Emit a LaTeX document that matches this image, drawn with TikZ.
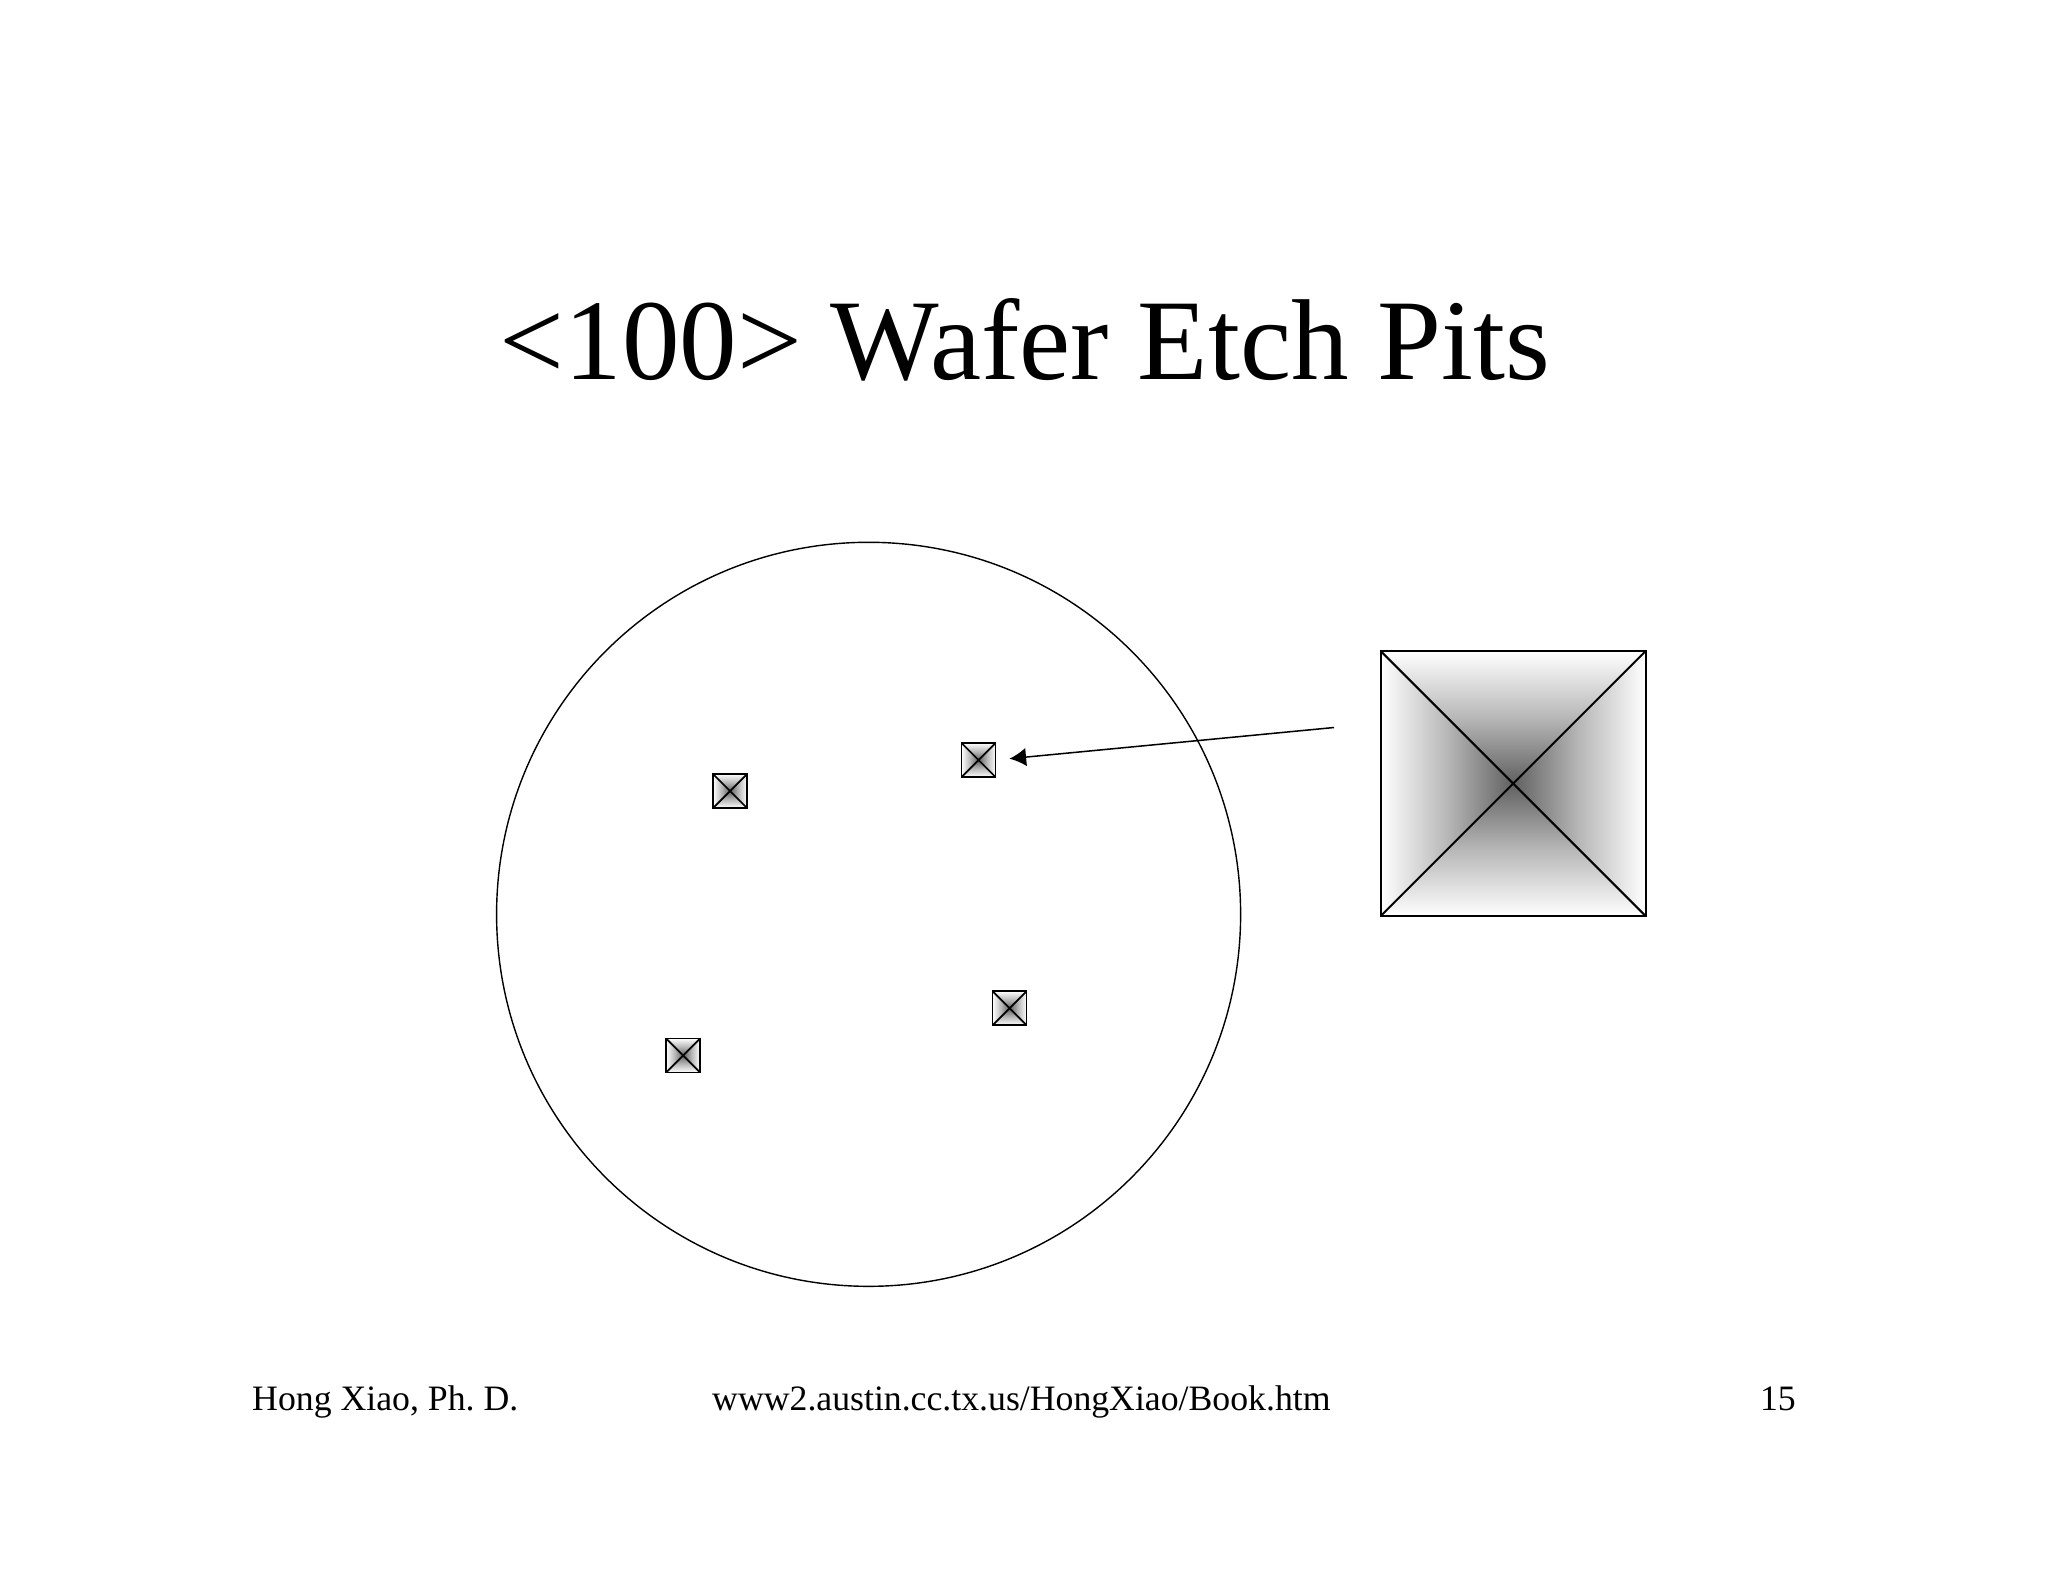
\documentclass[tikz,border=0pt]{standalone}
\usepackage{fontspec}
\setmainfont{Liberation Serif}
\usetikzlibrary{arrows.meta}
\tikzset{
  pyr/.style={draw, line width=#1, inner sep=0pt, outer sep=0pt,
    path picture={
      \coordinate (pnw) at (path picture bounding box.north west);
      \coordinate (pne) at (path picture bounding box.north east);
      \coordinate (psw) at (path picture bounding box.south west);
      \coordinate (pse) at (path picture bounding box.south east);
      \coordinate (pc) at (path picture bounding box.center);
      \shade[top color=white, bottom color=black!62, middle color=black!28] (pnw) -- (pne) -- (pc) -- cycle;
      \shade[bottom color=white, top color=black!62, middle color=black!28] (psw) -- (pse) -- (pc) -- cycle;
      \shade[left color=white, right color=black!62, middle color=black!28] (pnw) -- (psw) -- (pc) -- cycle;
      \shade[right color=white, left color=black!62, middle color=black!28] (pne) -- (pse) -- (pc) -- cycle;
      \draw[line width=#1] (pnw) -- (pse) (pne) -- (psw);
    }},
  pit/.style={pyr=1.5pt, minimum size=1.02cm},
  bigpit/.style={pyr=1.7pt, minimum size=7.95cm},
  wafer/.style={draw, line width=1.2pt, circle, minimum size=22.32cm, inner sep=0pt},
  lbl/.style={inner sep=0pt, anchor=base},
  pointer/.style={line width=1.3pt, -{Latex[length=0.5cm,width=0.55cm]}},
}
\begin{document}
\begin{tikzpicture}[x=0.03cm, y=-0.03cm]
\useasboundingbox (0,0) rectangle (2048,1582);
\fill[white] (0,0) rectangle (2048,1582);
\node[lbl, font=\fontsize{98.2}{100}\selectfont] (title) at (1025,379) {<100> Wafer Etch Pits};
\node[wafer] (wafer) at (868.6,914.3) {};
\node[pit] (pit1) at (978.5,760) {};
\node[pit] (pit2) at (730,791) {};
\node[pit] (pit3) at (1009.6,1008.3) {};
\node[pit] (pit4) at (683.1,1055.4) {};
\node[bigpit] (big) at (1513.2,783.6) {};
\coordinate (astart) at (1334,727.5);
\draw[pointer, shorten >=0.42cm] (astart) -- (pit1.east);
\node[lbl, font=\fontsize{30.5}{32}\selectfont, anchor=base west] (author) at (252,1410) {Hong Xiao, Ph.~D.};
\node[lbl, font=\fontsize{30.5}{32}\selectfont, anchor=base west] (url) at (712,1410) {www2.austin.cc.tx.us/HongXiao/Book.htm};
\node[lbl, font=\fontsize{30.5}{32}\selectfont, anchor=base east] (page) at (1796,1410) {15};
\end{tikzpicture}
\end{document}
